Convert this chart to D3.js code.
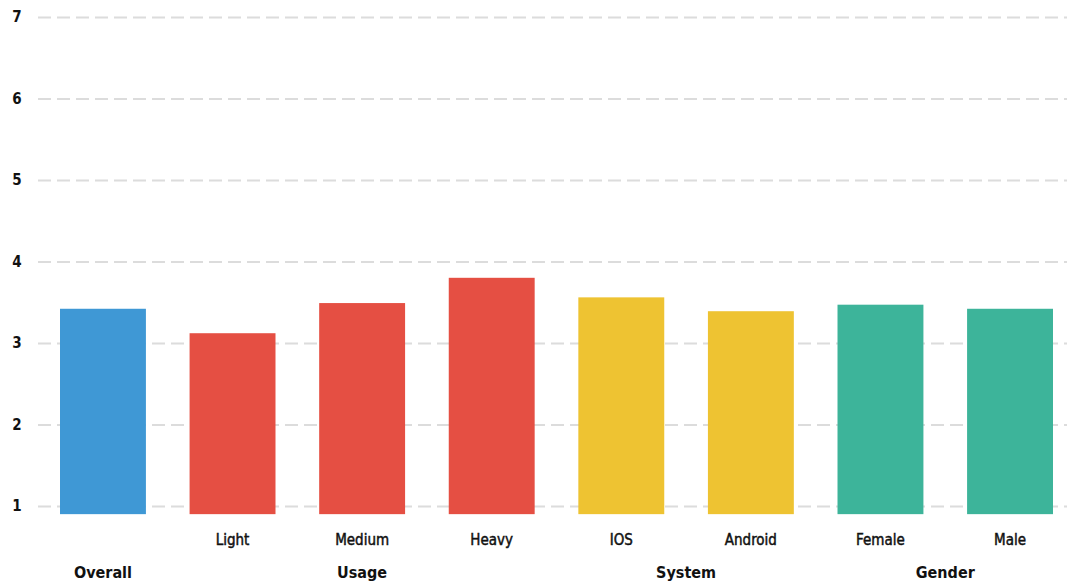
<!DOCTYPE html>
<html>
<head>
<meta charset="utf-8">
<script src="https://cdn.jsdelivr.net/npm/d3@7"></script>
<style>
  html, body { margin: 0; padding: 0; background: #fff; }
  svg { display: block; }
  text { font-family: "Liberation Sans Narrow", "DejaVu Sans Condensed", "Roboto Condensed", sans-serif; fill: #111; }
</style>
</head>
<body>
<svg id="chart" width="1067" height="586"></svg>
<script>
// Average rating by respondent segment
const categories = ["Overall", "Light", "Medium", "Heavy", "IOS", "Android", "Female", "Male"];
const barLabels  = ["", "Light", "Medium", "Heavy", "IOS", "Android", "Female", "Male"];
const groups     = ["Overall", "Usage", "Usage", "Usage", "System", "System", "Gender", "Gender"];
const values     = [3.42, 3.12, 3.49, 3.80, 3.56, 3.39, 3.47, 3.42];
const yTicks     = [1, 2, 3, 4, 5, 6, 7];
const groupNames = ["Overall", "Usage", "System", "Gender"];
const groupColors = { Overall: "#3f98d5", Usage: "#e54f43", System: "#eec332", Gender: "#3db49a" };
const baseValue = 0.9;

const svg = d3.select("#chart");

const x = d3.scaleBand().domain(categories).range([60, 1053]).paddingInner(0.337).paddingOuter(0);
const y = d3.scaleLinear().domain([1, 7]).range([506, 17]);

// Dashed horizontal grid with labels on the left
const yAxis = d3.axisLeft(y).tickValues(yTicks).tickSize(-(1067 - 38)).tickFormat(d3.format("d"));
const gy = svg.append("g").attr("transform", "translate(38,0)").call(yAxis);
gy.select(".domain").remove();
gy.selectAll(".tick line")
  .attr("stroke", "#dcdcdc").attr("stroke-width", 2).attr("stroke-dasharray", "13,6");
gy.selectAll(".tick text")
  .attr("x", -21).attr("text-anchor", "middle")
  .style("font-size", "15px").style("font-weight", "bold").attr("fill", "#111");

// Bars
svg.append("g").selectAll("rect")
  .data(categories)
  .join("rect")
  .attr("x", d => x(d))
  .attr("width", x.bandwidth())
  .attr("y", (d, i) => y(values[i]))
  .attr("height", (d, i) => y(baseValue) - y(values[i]))
  .attr("fill", (d, i) => groupColors[groups[i]]);

// Per-bar labels (semi-bold look via a thin outline)
svg.append("g").selectAll("text")
  .data(categories)
  .join("text")
  .attr("x", d => x(d) + x.bandwidth() / 2)
  .attr("y", 545)
  .attr("text-anchor", "middle")
  .attr("stroke", "#111")
  .attr("stroke-width", 0.45)
  .style("font-size", "15px")
  .text((d, i) => barLabels[i]);

// Group labels centred beneath their bars
const groupCenters = groupNames.map(g => {
  const members = categories.filter((c, i) => groups[i] === g);
  const left = x(members[0]);
  const right = x(members[members.length - 1]) + x.bandwidth();
  return { name: g, cx: (left + right) / 2 };
});
svg.append("g").selectAll("text")
  .data(groupCenters)
  .join("text")
  .attr("x", d => d.cx)
  .attr("y", 578)
  .attr("text-anchor", "middle")
  .style("font-size", "16px")
  .style("font-weight", "bold")
  .text(d => d.name);
</script>
</body>
</html>
